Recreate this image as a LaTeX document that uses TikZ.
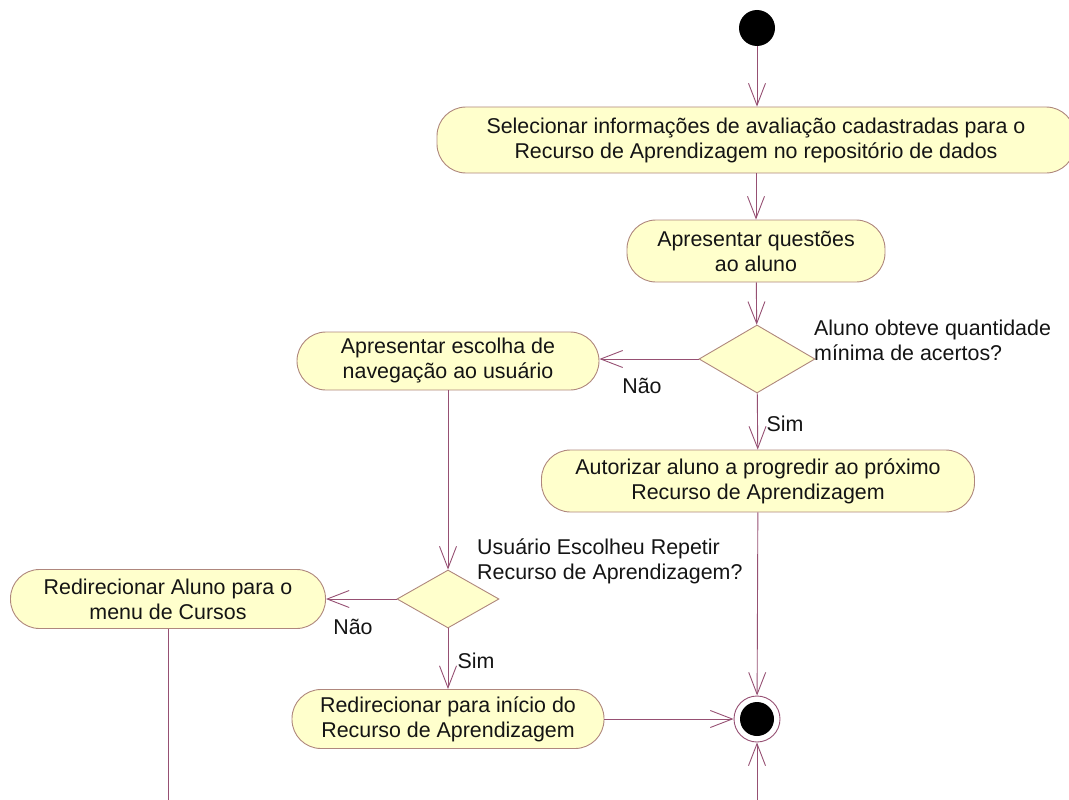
\documentclass[tikz,border=0pt]{standalone}
\usepackage{fontspec}
\setmainfont{Liberation Sans}
\usetikzlibrary{arrows.meta,shapes.geometric}
\definecolor{actfill}{RGB}{255,255,204}
\definecolor{actline}{RGB}{175,135,125}
\definecolor{flow}{RGB}{150,80,115}
\definecolor{ink}{RGB}{20,20,20}

\begin{document}
\begin{tikzpicture}[x=1pt,y=-1pt,
  every node/.style={text=ink, font=\fontsize{21.4}{25}\selectfont},
  activity/.style={rectangle, rounded corners=29pt, draw=actline, fill=actfill,
    line width=0.9pt, align=center, inner sep=0pt},
  decision/.style={diamond, draw=actline, fill=actfill, line width=0.9pt, inner sep=0pt},
  flowline/.style={draw=flow, line width=0.9pt},
  arrow/.style={flowline, -{Straight Barb[length=22pt,width=17pt]}},
  guard/.style={inner sep=0pt, align=left},
]
\useasboundingbox (0,0) rectangle (1069,800);

% initial and final states
\node[circle, fill=black, minimum size=36pt, inner sep=0pt] (start) at (757,28) {};
\node[circle, draw=flow, line width=0.9pt, fill=white, minimum size=46pt, inner sep=0pt] (final) at (757,719) {};
\node[circle, fill=black, minimum size=34pt, inner sep=0pt] (finalcore) at (757,719) {};

% activities
\node[activity, minimum width=638pt, minimum height=66pt] (select) at (756,140)
  {Selecionar informações de avaliação cadastradas para o\\Recurso de Aprendizagem no repositório de dados};
\node[activity, minimum width=258pt, minimum height=62pt] (questions) at (756,251)
  {Apresentar questões\\ao aluno};
\node[activity, minimum width=302pt, minimum height=58pt] (navchoice) at (448,361)
  {Apresentar escolha de\\navegação ao usuário};
\node[activity, minimum width=433pt, minimum height=62pt] (authorize) at (758,481)
  {Autorizar aluno a progredir ao próximo\\Recurso de Aprendizagem};
\node[activity, minimum width=315pt, minimum height=59pt] (courses) at (168,599)
  {Redirecionar Aluno para o\\menu de Cursos};
\node[activity, minimum width=312pt, minimum height=59pt] (restart) at (448,719)
  {Redirecionar para início do\\Recurso de Aprendizagem};

% decisions
\node[decision, minimum width=116pt, minimum height=68pt] (grade) at (757,359) {};
\node[decision, minimum width=102pt, minimum height=58pt] (repeat) at (448,599) {};

% decision captions and guards
\node[guard, anchor=west] (gradeq) at (814,340) {Aluno obteve quantidade\\mínima de acertos?};
\node[guard, anchor=west] (repeatq) at (477,561) {Usuário Escolheu Repetir\\Recurso de Aprendizagem?};
\node[guard] (gradeno) at (642,386) {Não};
\node[guard] (gradeyes) at (785,424) {Sim};
\node[guard] (repeatno) at (353,627) {Não};
\node[guard] (repeatyes) at (476,661) {Sim};

% loose ends at the lower border
\coordinate (coursesout) at (168,800);
\coordinate (finalin) at (757,800);

% transitions
\draw[arrow] (start) -- (start |- select.north);
\draw[arrow] (select.south -| questions) -- (questions);
\draw[arrow] (questions) -- (grade);
\draw[arrow] (grade.west) -- (navchoice.east |- grade.west);
\draw[arrow] (grade) -- (authorize);
\draw[arrow] (authorize) -- (final);
\draw[arrow] (navchoice) -- (repeat);
\draw[arrow] (repeat.west) -- (courses.east |- repeat.west);
\draw[arrow] (repeat) -- (restart);
\draw[arrow] (restart) -- (final);
\draw[flowline] (courses) -- (coursesout);
\draw[arrow] (finalin) -- (final);
\end{tikzpicture}
\end{document}
